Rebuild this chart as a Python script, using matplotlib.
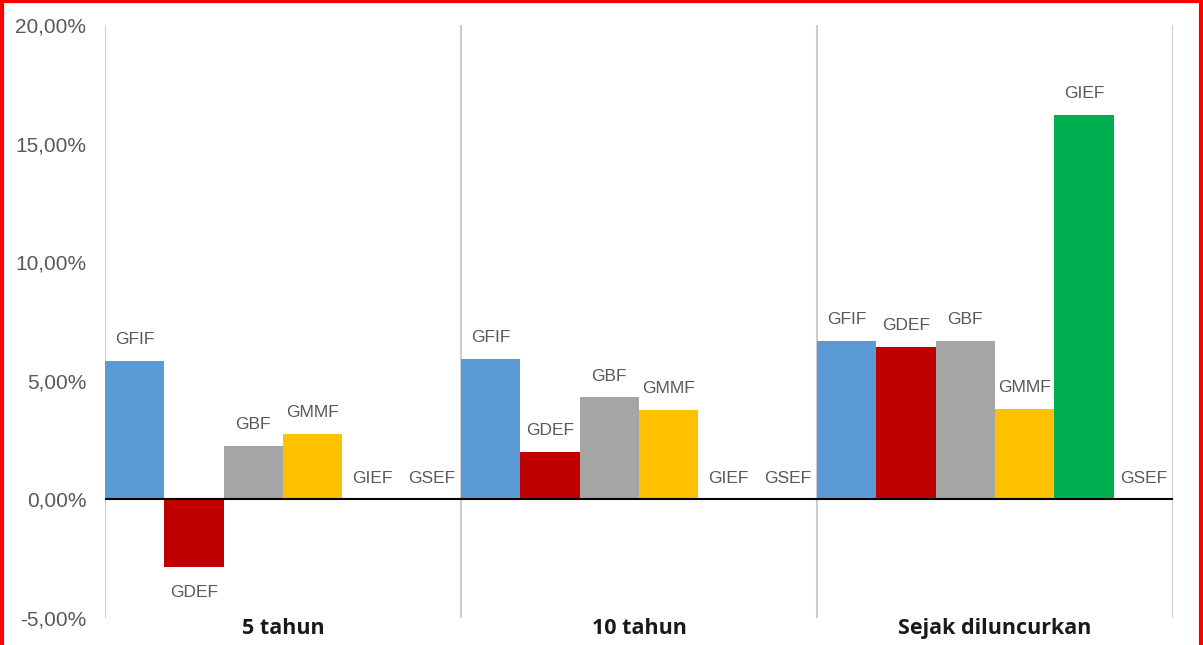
import numpy as np
import matplotlib.pyplot as plt
from matplotlib.lines import Line2D

# data (percent)
periods = ["5 tahun", "10 tahun", "Sejak diluncurkan"]
funds = ["GFIF", "GDEF", "GBF", "GMMF", "GIEF", "GSEF"]
gfif = [5.84, 5.93, 6.69]
gdef = [-2.85, 1.99, 6.44]
gbf = [2.25, 4.30, 6.69]
gmmf = [2.77, 3.79, 3.80]
gief = [0.0, 0.0, 16.20]
gsef = [0.0, 0.0, 0.0]
colors = ["#5B9BD5", "#C00000", "#A5A5A5", "#FFC000", "#00B050", "#7F7F7F"]
yticks = [-5, 0, 5, 10, 15, 20]

series = [gfif, gdef, gbf, gmmf, gief, gsef]

fig = plt.figure(figsize=(12.03, 6.45), dpi=100)
ax = fig.add_axes([105/1203, 1-618/645, 1068/1203, 593/645])

x = np.arange(len(periods))
w = 1/6
for i, (name, vals) in enumerate(zip(funds, series)):
    pos = x + (i - 2.5)*w
    ax.bar(pos, vals, width=w, color=colors[i], linewidth=0, zorder=2)
    for px, v in zip(pos, vals):
        if v < 0:
            ax.annotate(name, (px, v), xytext=(0, -13), textcoords="offset points",
                        ha="center", va="top", fontsize=12.5, color="#595959",
                        family="Liberation Sans")
        else:
            ax.annotate(name, (px, v), xytext=(0, 10), textcoords="offset points",
                        ha="center", va="bottom", fontsize=12.5, color="#595959",
                        family="Liberation Sans")

ax.set_xlim(-0.5, 2.5)
ax.set_ylim(-5, 20)

# group separators and zero line
for b in [-0.5, 0.5, 1.5, 2.5]:
    ax.axvline(b, color="#CDCDCD", lw=1.5, zorder=1)
ax.axhline(0, color="black", lw=1.5, zorder=3)

for s in ax.spines.values():
    s.set_visible(False)

ax.set_yticks(yticks)
ax.set_yticklabels([f"{t:.2f}%".replace(".", ",") for t in yticks],
                   fontsize=15, color="#595959", family="Liberation Sans")
ax.tick_params(axis="y", length=0, pad=13.5)
ax.set_xticks(x)
ax.set_xticklabels(periods, fontsize=15.5, fontweight="bold", color="#1A1A1A",
                   family="Open Sans")
ax.tick_params(axis="x", length=0, pad=0)

# red frame around the picture
for xs, ys in [([0.0015, 0.0015], [0, 1]), ([0, 1], [0.999, 0.999]), ([0.9985, 0.9985], [0, 1])]:
    fig.add_artist(Line2D(xs, ys, color="red", lw=3, transform=fig.transFigure))

fig.savefig("out.png", dpi=100)
